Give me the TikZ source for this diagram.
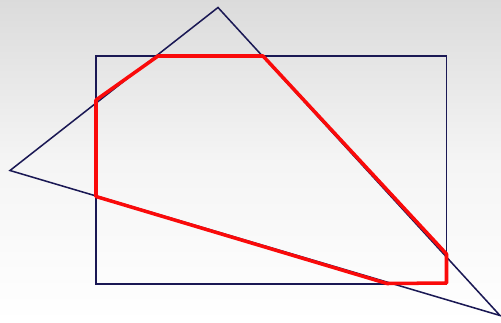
\documentclass[tikz,border=0pt]{standalone}
\usepackage{xcolor}
\usetikzlibrary{calc, backgrounds}

\definecolor{navyline}{RGB}{26,24,84}
\definecolor{clipred}{RGB}{250,10,10}

\begin{document}
\begin{tikzpicture}[
  x=0.03cm, y=-0.03cm,
  poly/.style={draw=navyline, line width=1.3pt, line join=miter},
  result/.style={draw=clipred, line width=3pt, line join=round},
  bg/.style={top color=black!14, bottom color=white, middle color=black!4},
]
% background
\fill[bg] (0,0) rectangle (501,322);
\useasboundingbox (0,0) rectangle (501,322);

% clip window
\coordinate (R1) at (96,56);
\coordinate (R2) at (446.5,284);
% triangle
\coordinate (T1) at (218,7.5);
\coordinate (T2) at (10,170.5);
\coordinate (T3) at (500,315.5);

\draw[poly] (R1) rectangle (R2);
\draw[poly] (T1) -- (T2) -- (T3) -- cycle;

% clipped polygon
\draw[result] (96,100) -- (158,56) -- (263,56) -- (446.5,254)
  -- (446.5,283) -- (387,283.5) -- (96,196.5) -- cycle;
\end{tikzpicture}
\end{document}
